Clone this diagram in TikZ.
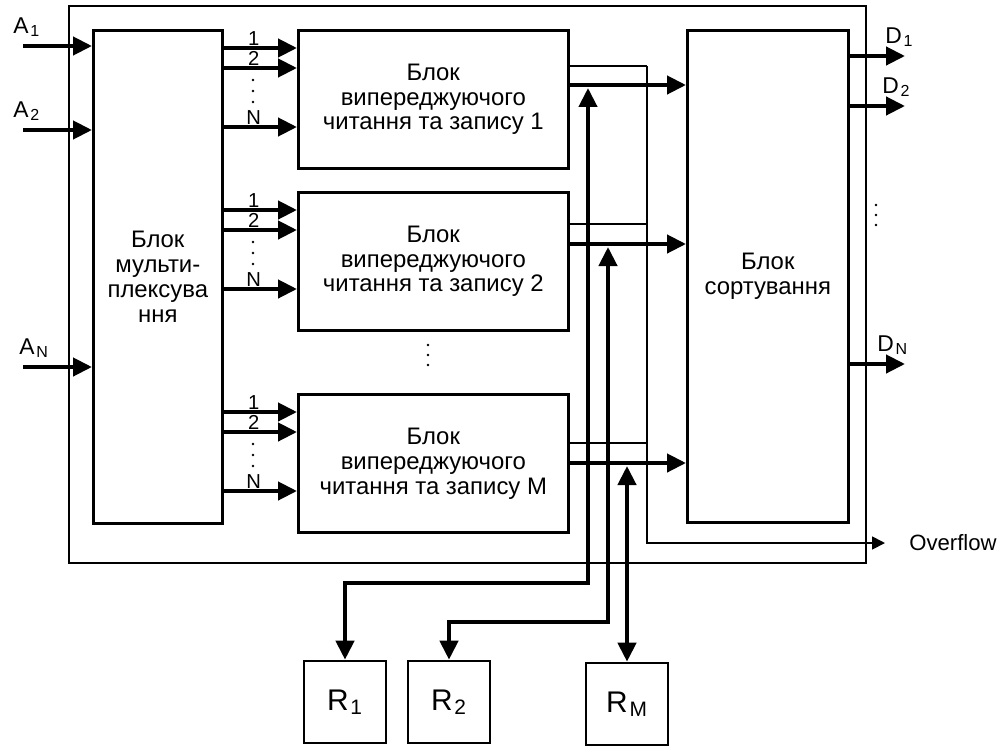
\documentclass[tikz,border=0pt]{standalone}
\usepackage{fontspec}
\setmainfont{Liberation Sans}
\usetikzlibrary{arrows.meta}

\begin{document}
\begin{tikzpicture}[x=0.02cm, y=-0.02cm,
        blockbox/.style={draw, line width=1.5pt, align=center, inner sep=0pt, anchor=north west, font=\fontsize{13.6}{14.2}\selectfont},
        rbox/.style={draw, line width=1.5pt, inner sep=0pt, minimum size=1.64cm, font=\fontsize{17}{18}\selectfont},
        bus/.style={line width=2.4pt, -{Triangle[length=0.38cm,width=0.36cm]}},
        dbus/.style={line width=2.4pt, {Triangle[length=0.38cm,width=0.36cm]}-{Triangle[length=0.38cm,width=0.36cm]}},
        thinline/.style={line width=1pt},
        thinarr/.style={line width=1pt, -{Triangle[length=0.26cm,width=0.26cm]}},
        lbl/.style={inner sep=0pt, anchor=base west, font=\fontsize{13}{14}\selectfont},
        num/.style={inner sep=0pt, anchor=base, yshift=0.06cm, font=\fontsize{11.5}{12}\selectfont}]
        % \draw[help lines, gray!50, very thin] (0,0) grid[step=50] (999,747);
        \useasboundingbox (0,0) rectangle (999,747);

        \draw[line width=1pt] (69,6) rectangle (866,563);

        \node[blockbox, minimum width=2.58cm, minimum height=9.86cm] (mux) at (92,29) {Блок\\мульти-\\плексува\\ння};
        \node[blockbox, minimum width=3.22cm, minimum height=9.84cm] (sort) at (686,29) {Блок\\сортування};

        % inputs
        \foreach \y/\a/\n in {46/13/1, 130/13/2, 367/19/N} {
            \coordinate (in\n) at (23,\y);
            \draw[bus] (in\n) -- (mux.west |- in\n);
            \node[lbl] (a\n) at (\a,\y-13) {A\kern1pt\textsubscript{\n}};
        }

        % read-write blocks
        \foreach \i/\y/\t in {1/29/1, 2/191/2, 3/393/M} {
            \node[blockbox, minimum width=5.4cm, minimum height=2.76cm] (rw\i) at (297,\y) {Блок\\випереджуючого\\читання та запису \t};
            \foreach \d/\n [evaluate=\d as \yy using \y+\d] in {19/1, 39/2, 98/N} {
                \draw[bus] (mux.east |- 0,\yy) -- (rw\i.west |- 0,\yy) node[num, pos=0.41] {\n};
            }
            \foreach \d in {51,62,73} {
                \fill (253,\y+\d) circle (1.3);
            }
        }
        \foreach \d in {345,355,365} {
            \fill (428,\d) circle (1.3);
        }

        % overflow bus
        \coordinate (ovtop) at (647,66);
        \coordinate (ovbot) at (647,543);
        \node[lbl, anchor=west, inner xsep=0.48cm, font=\fontsize{12.6}{14}\selectfont] (ovf) at (885,543) {Overflow};
        \draw[thinarr] (ovtop) -- (ovbot) -- (ovf.west);

        \foreach \i/\yo/\yt in {1/85/66, 2/244/224, 3/463/443} {
            \draw[bus] (rw\i.east |- 0,\yo) -- (sort.west |- 0,\yo);
            \draw[thinline] (rw\i.east |- 0,\yt) -- (ovtop |- 0,\yt);
        }

        % registers
        \node[rbox] (r1) at (345,702) {R\kern1pt\textsubscript{1}};
        \node[rbox] (r2) at (449,702) {R\kern1pt\textsubscript{2}};
        \node[rbox] (rM) at (627,704) {R\kern1pt\textsubscript{M}};

        \coordinate (t1) at (588,88);
        \coordinate (t2) at (608,247);
        \coordinate (t3) at (627,466);
        \draw[dbus] (t1) -- (588,583) -| (r1.north);
        \draw[dbus] (t2) -- (608,622) -| (r2.north);
        \draw[dbus] (t3) -- (rM.north);

        % outputs
        \foreach \y/\x/\n in {56/885/1, 106/882/2, 364/877/N} {
            \coordinate (out\n) at (905,\y);
            \draw[bus] (sort.east |- out\n) -- (out\n);
            \node[lbl] (d\n) at (\x,\y-13) {D\kern1pt\textsubscript{\n}};
        }
        \foreach \d in {205,215,225} {
            \fill (876,\d) circle (1.3);
        }
      \end{tikzpicture}
\end{document}
